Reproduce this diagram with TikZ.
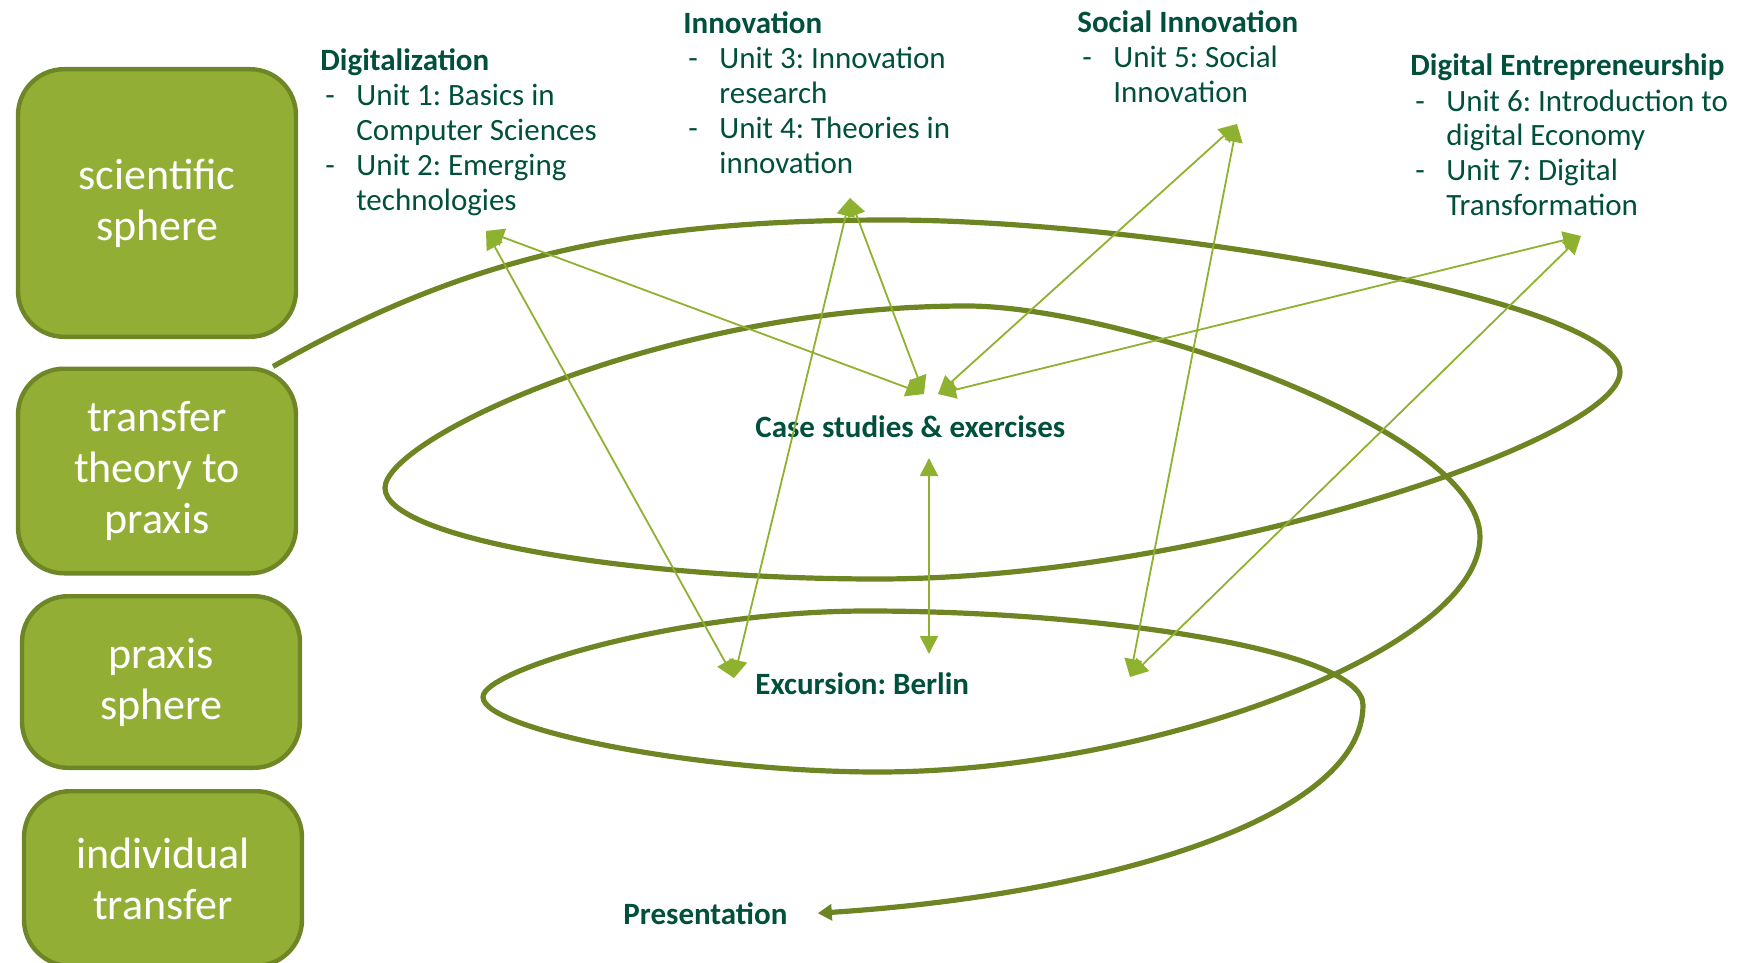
\documentclass[tikz,border=0pt]{standalone}
\usepackage{fontspec}
\setmainfont{Carlito}
\usetikzlibrary{arrows.meta}
\frenchspacing

\definecolor{boxfill}{RGB}{147,174,52}
\definecolor{boxedge}{RGB}{110,134,38}
\definecolor{loopgreen}{RGB}{110,133,35}
\definecolor{linkgreen}{RGB}{143,177,48}
\definecolor{textgreen}{RGB}{0,80,60}

\tikzset{
  spherebox/.style={draw=boxedge, fill=boxfill, line width=2.2pt, rounded corners=23pt,
    text=white, align=center, font=\fontsize{22}{25.5}\selectfont,
    minimum width=139pt, inner sep=0pt},
  unitlist/.style={anchor=base west, inner sep=0pt, text=textgreen,
    font=\fontsize{15.5}{17.5}\selectfont},
  stationlabel/.style={anchor=base west, inner sep=0pt, text=textgreen,
    font=\fontsize{15.5}{17.5}\selectfont\bfseries},
  unitlink/.style={draw=linkgreen, line width=0.9pt,
    {Triangle[length=9pt,width=9pt]}-{Triangle[length=9pt,width=9pt]}},
  spiralline/.style={draw=loopgreen, line width=2.6pt, -{Triangle[length=7pt,width=8pt]}},
}

\newcommand{\unittab}[2]{%
  \begin{tabular}[t]{@{\hspace{2.5pt}}p{15.5pt}@{}l@{}}
    \multicolumn{2}{@{}l@{}}{\bfseries #1}\\
    #2
  \end{tabular}}

\begin{document}
\begin{tikzpicture}[x=0.5pt, y=-0.5pt]
    \useasboundingbox (0,0) rectangle (1742,963);
    \clip (0,0) rectangle (1742,963);

    % Spheres on the left
    \node[spherebox, minimum height=133.8pt] (sci) at (157,203) {scientific\\sphere};
    \node[spherebox, minimum height=102.3pt] (trans) at (157,471) {transfer\\theory to\\praxis};
    \node[spherebox, minimum height=85.8pt] (prax) at (161,682) {praxis\\sphere};
    \node[spherebox, minimum height=87.3pt] (indiv) at (163,878.5) {individual\\transfer};

    % Topics with their units
    \node[unitlist] (digi) at (320,71) {\unittab{Digitalization}{- & Unit 1: Basics in\\ & Computer Sciences\\ - & Unit 2: Emerging\\ & technologies}};
    \node[unitlist] (inno) at (683,34) {\unittab{Innovation}{- & Unit 3: Innovation\\ & research\\ - & Unit 4: Theories in\\ & innovation}};
    \node[unitlist] (soc) at (1077,33) {\unittab{Social Innovation}{- & Unit 5: Social\\ & Innovation}};
    \node[unitlist] (ent) at (1410,76) {\unittab{Digital Entrepreneurship}{- & Unit 6: Introduction to\\ & digital Economy\\ - & Unit 7: Digital\\ & Transformation}};

    % Stations
    \node[stationlabel] (case) at (755,437) {Case studies \& exercises};
    \node[stationlabel] (exc) at (755,694) {Excursion: Berlin};
    \node[stationlabel] (pres) at (623,924) {Presentation};

    % Arrow ends
    \coordinate (digiend) at (486,231);
    \coordinate (innoend) at (850,198);
    \coordinate (socend) at (1237,124);
    \coordinate (entend) at (1581,236);
    \coordinate (caseL) at (924,394);
    \coordinate (caseR) at (938,394);
    \coordinate (caseB) at (929,458);
    \coordinate (excT) at (929,654);
    \coordinate (excL) at (734,678);
    \coordinate (excR) at (1130,677);

    % Spiral
    \draw[spiralline] (trans.42)
        .. controls (473,253) and (640,220) .. (890,220)
        .. controls (1150,220) and (1620,300) .. (1620,372)
        .. controls (1620,440) and (1200,579) .. (878,579)
        .. controls (628,579) and (385,538) .. (385,488)
        .. controls (385,438) and (667,306) .. (967,306)
        .. controls (1120,306) and (1480,430) .. (1480,537)
        .. controls (1480,650) and (1150,772) .. (878,772)
        .. controls (700,772) and (483,730) .. (483,697)
        .. controls (483,670) and (680,611) .. (867,611)
        .. controls (1100,611) and (1363,650) .. (1363,705)
        .. controls (1363,820) and (1100,895) .. ([xshift=15pt]pres.east);

    % Links between units and stations
    \draw[unitlink] (digiend) -- (caseL);
    \draw[unitlink] (digiend) -- (excL);
    \draw[unitlink] (innoend) -- (caseL);
    \draw[unitlink] (innoend) -- (excL);
    \draw[unitlink] (socend) -- (caseR);
    \draw[unitlink] (socend) -- (excR);
    \draw[unitlink] (entend) -- (caseR);
    \draw[unitlink] (entend) -- (excR);
    \draw[unitlink] (caseB) -- (excT);
\end{tikzpicture}
\end{document}
